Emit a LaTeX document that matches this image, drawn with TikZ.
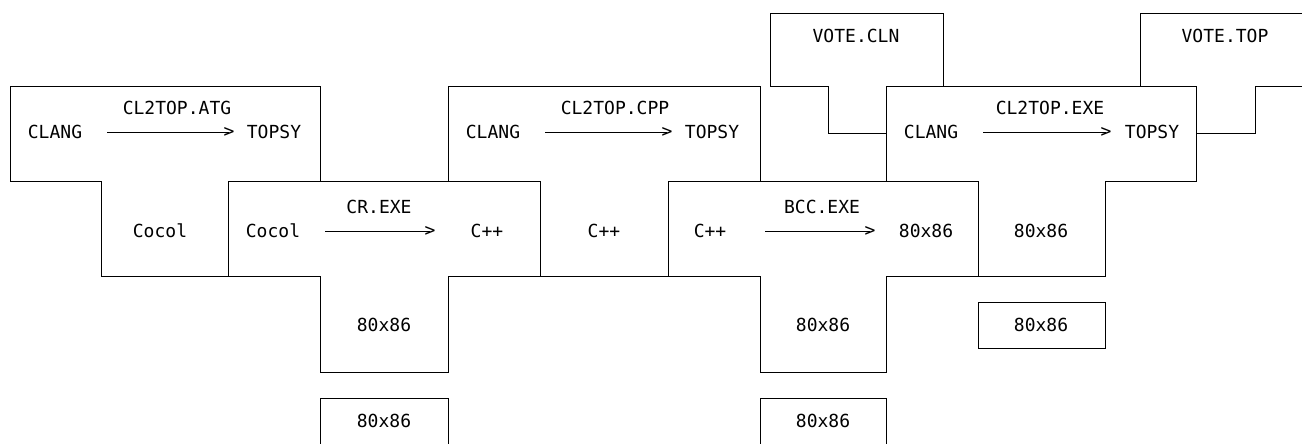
\documentclass[tikz,border=0pt]{standalone}
\usepackage{fontspec}
\setmonofont{DejaVu Sans Mono}
\begin{document}
\begin{tikzpicture}[x=1pt,y=-1pt,
  tframe/.style={draw=black,line width=0.9pt,line join=miter},
  lbl/.style={font=\ttfamily\fontsize{18}{20}\selectfont,inner sep=0pt,anchor=center},
  tipchar/.style={font=\ttfamily\fontsize{18}{20}\selectfont,inner sep=0pt,anchor=center},
  link/.style={draw=black,line width=0.9pt}]
\useasboundingbox (0,0) rectangle (1302,444);
% T1 CL2TOP.ATG
\draw[tframe] (10,86)--(320,86)--(320,181)--(228,181)--(228,276)--(101,276)--(101,181)--(10,181)--cycle;
% T2 CR.EXE
\draw[tframe] (228,181)--(540,181)--(540,276)--(448,276)--(448,372)--(320,372)--(320,276)--(228,276)--cycle;
% T3 CL2TOP.CPP
\draw[tframe] (448,86)--(760,86)--(760,181)--(668,181)--(668,276)--(540,276)--(540,181)--(448,181)--cycle;
% T4 BCC.EXE
\draw[tframe] (668,181)--(978,181)--(978,276)--(886,276)--(886,372)--(760,372)--(760,276)--(668,276)--cycle;
% T5 CL2TOP.EXE
\draw[tframe] (886,86)--(1196,86)--(1196,181)--(1105,181)--(1105,276)--(978,276)--(978,181)--(886,181)--cycle;
% machine boxes
\draw[tframe] (978,302) rectangle (1105,348);
\draw[tframe] (320,444)--(320,398)--(448,398)--(448,444);
\draw[tframe] (760,444)--(760,398)--(886,398)--(886,444);
% programs
\draw[tframe] (886,133)--(828,133)--(828,86)--(770,86)--(770,13)--(943,13)--(943,86);
\draw[tframe] (1196,133)--(1255,133)--(1255,86)--(1302,86);
\draw[tframe] (1140,86)--(1140,13)--(1302,13);
% texts T1
\node[lbl] (t1s) at (55,132) {CLANG};
\node[lbl] (t1n) at (177,108) {CL2TOP.ATG};
\node[tipchar] (t1g) at (229,132) {>};
\node[lbl] (t1t) at (274,132) {TOPSY};
\node[lbl] (t1m) at (160,231) {Cocol};
\coordinate (t1a) at (107,132);
\draw[link] (t1a) -- (t1g.center);
% T2
\node[lbl] (t2s) at (273,231) {Cocol};
\node[lbl] (t2n) at (379,207) {CR.EXE};
\node[tipchar] (t2g) at (430,231) {>};
\node[lbl] (t2t) at (487,231) {C++};
\node[lbl] (t2m) at (384,325) {80x86};
\node[lbl] (b1) at (384,421) {80x86};
\coordinate (t2a) at (325,231);
\draw[link] (t2a) -- (t2g.center);
% T3
\node[lbl] (t3s) at (493,132) {CLANG};
\node[lbl] (t3n) at (615,108) {CL2TOP.CPP};
\node[tipchar] (t3g) at (667,132) {>};
\node[lbl] (t3t) at (712,132) {TOPSY};
\node[lbl] (t3m) at (604,231) {C++};
\coordinate (t3a) at (545,132);
\draw[link] (t3a) -- (t3g.center);
% T4
\node[lbl] (t4s) at (710,231) {C++};
\node[lbl] (t4n) at (822,207) {BCC.EXE};
\node[tipchar] (t4g) at (870,231) {>};
\node[lbl] (t4t) at (926,231) {80x86};
\node[lbl] (t4m) at (823,325) {80x86};
\node[lbl] (b2) at (823,421) {80x86};
\coordinate (t4a) at (765,231);
\draw[link] (t4a) -- (t4g.center);
% T5
\node[lbl] (t5s) at (931,132) {CLANG};
\node[lbl] (t5n) at (1050,108) {CL2TOP.EXE};
\node[tipchar] (t5g) at (1106,132) {>};
\node[lbl] (t5t) at (1152,132) {TOPSY};
\node[lbl] (t5m) at (1041,231) {80x86};
\node[lbl] (m5) at (1041,325) {80x86};
\coordinate (t5a) at (983,132);
\draw[link] (t5a) -- (t5g.center);
% programs
\node[lbl] (p1) at (856,36) {VOTE.CLN};
\node[lbl] (p2) at (1225,36) {VOTE.TOP};
\end{tikzpicture}
\end{document}
